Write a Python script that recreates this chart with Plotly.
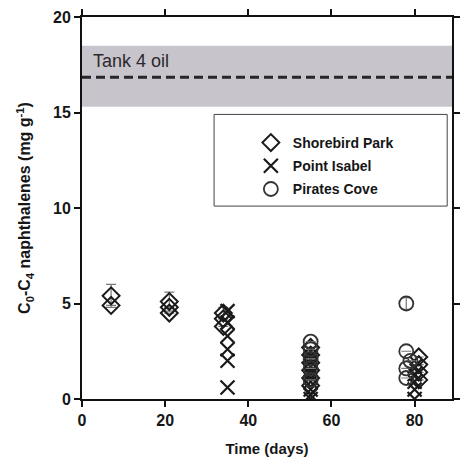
import plotly.graph_objects as go

# Shorebird Park (diamonds)
sb_days = [7, 7, 21, 21, 21, 34, 34, 34, 55, 55, 55, 55, 55, 55, 81, 81, 81, 81]
sb_vals = [5.4, 4.9, 5.1, 4.8, 4.5, 4.5, 4.2, 3.8, 2.7, 2.3, 1.9, 1.5, 1.1, 0.7, 2.2, 1.8, 1.4, 1.0]
sb_err = [0.6, 0, 0.5, 0, 0, 0.3, 0, 0, 0, 0, 0, 0, 0, 0, 0, 0, 0, 0]

# Point Isabel (crosses)
pi_days = [35, 35, 35, 35, 35, 35, 55, 55, 55, 55, 55, 55, 55, 55, 80, 80, 80, 80, 80]
pi_vals = [4.6, 4.0, 3.3, 2.6, 2.0, 0.6, 2.5, 2.1, 1.7, 1.3, 0.9, 0.5, 0.2, 0.0,
           1.7, 1.3, 0.9, 0.5, 0.0]

# Pirates Cove (circles)
pc_days = [55, 55, 55, 55, 55, 78, 78, 78, 78, 79]
pc_vals = [3.0, 2.6, 2.1, 1.6, 1.0, 5.0, 2.5, 1.6, 1.1, 2.0]
pc_err = [0, 0, 0, 0, 0, 0.3, 0, 0, 0, 0]

# Tank 4 oil reference level and its range
oil_mean = 16.85
oil_low, oil_high = 15.3, 18.5

x_ticks = [0, 20, 40, 60, 80]
y_ticks = [0, 5, 10, 15, 20]

FONT = "Liberation Sans"
INK = "#1a1a1a"

fig = go.Figure()

# shaded range of the oil and its mean
fig.add_shape(type="rect", xref="x", yref="y", x0=0, x1=89, y0=oil_low, y1=oil_high,
              fillcolor="#c8c4cc", line_width=0, layer="below")
fig.add_shape(type="line", xref="x", yref="y", x0=0, x1=89, y0=oil_mean, y1=oil_mean,
              line=dict(color="#262626", width=3, dash="9px,5px"))
fig.add_annotation(x=2.2, y=17.7, xref="x", yref="y", text="Tank 4 oil", showarrow=False,
                   xanchor="left", yanchor="middle",
                   font=dict(family=FONT, size=18, color="#2a2a2a"))

# legend frame
fig.add_shape(type="rect", xref="paper", yref="paper",
              x0=0.357, x1=0.987, y0=0.505, y1=0.745,
              fillcolor="white", line=dict(color="#444", width=1), layer="below")

fig.add_trace(go.Scatter(
    x=sb_days, y=sb_vals, mode="markers", name="Shorebird Park", legendgroup="sb",
    marker=dict(symbol="diamond-open", size=13, color=INK, line=dict(width=2, color=INK)),
    error_y=dict(type="data", array=sb_err, visible=True, color="#777", thickness=1.2, width=5)))
fig.add_trace(go.Scatter(
    x=pi_days, y=pi_vals, mode="markers", name="Point Isabel", legendgroup="pi",
    marker=dict(symbol="x-thin-open", size=14, color=INK, line=dict(width=2.2, color=INK))))
fig.add_trace(go.Scatter(
    x=pc_days, y=pc_vals, mode="markers", name="Pirates Cove", legendgroup="pc",
    marker=dict(symbol="circle-open", size=14, color="#333", line=dict(width=1.8, color="#333")),
    error_y=dict(type="data", array=pc_err, visible=True, color="#777", thickness=1.2, width=5)))

axis_common = dict(showline=True, linecolor="#111", linewidth=2, mirror="ticks",
                   ticks="outside", ticklen=6, tickwidth=2, tickcolor="#111",
                   showgrid=False, zeroline=False,
                   tickfont=dict(family=FONT, size=16, color="#161616", weight="bold"))

fig.update_xaxes(range=[0, 89], tickvals=x_ticks, **axis_common,
                 title=dict(text="Time (days)", standoff=15,
                            font=dict(family=FONT, size=15, color="#161616", weight="bold")))
fig.update_yaxes(range=[0, 20], tickvals=y_ticks, **axis_common,
                 title=dict(text="C<sub>0</sub>-C<sub>4</sub> naphthalenes (mg g<sup>-1</sup>)",
                            standoff=18,
                            font=dict(family=FONT, size=16, color="#161616", weight="bold")))

fig.update_layout(
    width=467, height=462,
    margin=dict(l=82, r=7, t=17, b=63),
    paper_bgcolor="white", plot_bgcolor="white",
    showlegend=True,
    legend=dict(x=0.451, y=0.712, xanchor="left", yanchor="top",
                bgcolor="rgba(0,0,0,0)", borderwidth=0, tracegroupgap=2, itemwidth=34,
                font=dict(family=FONT, size=14, color="#161616", weight="bold")),
)

fig.write_html("out.html")
